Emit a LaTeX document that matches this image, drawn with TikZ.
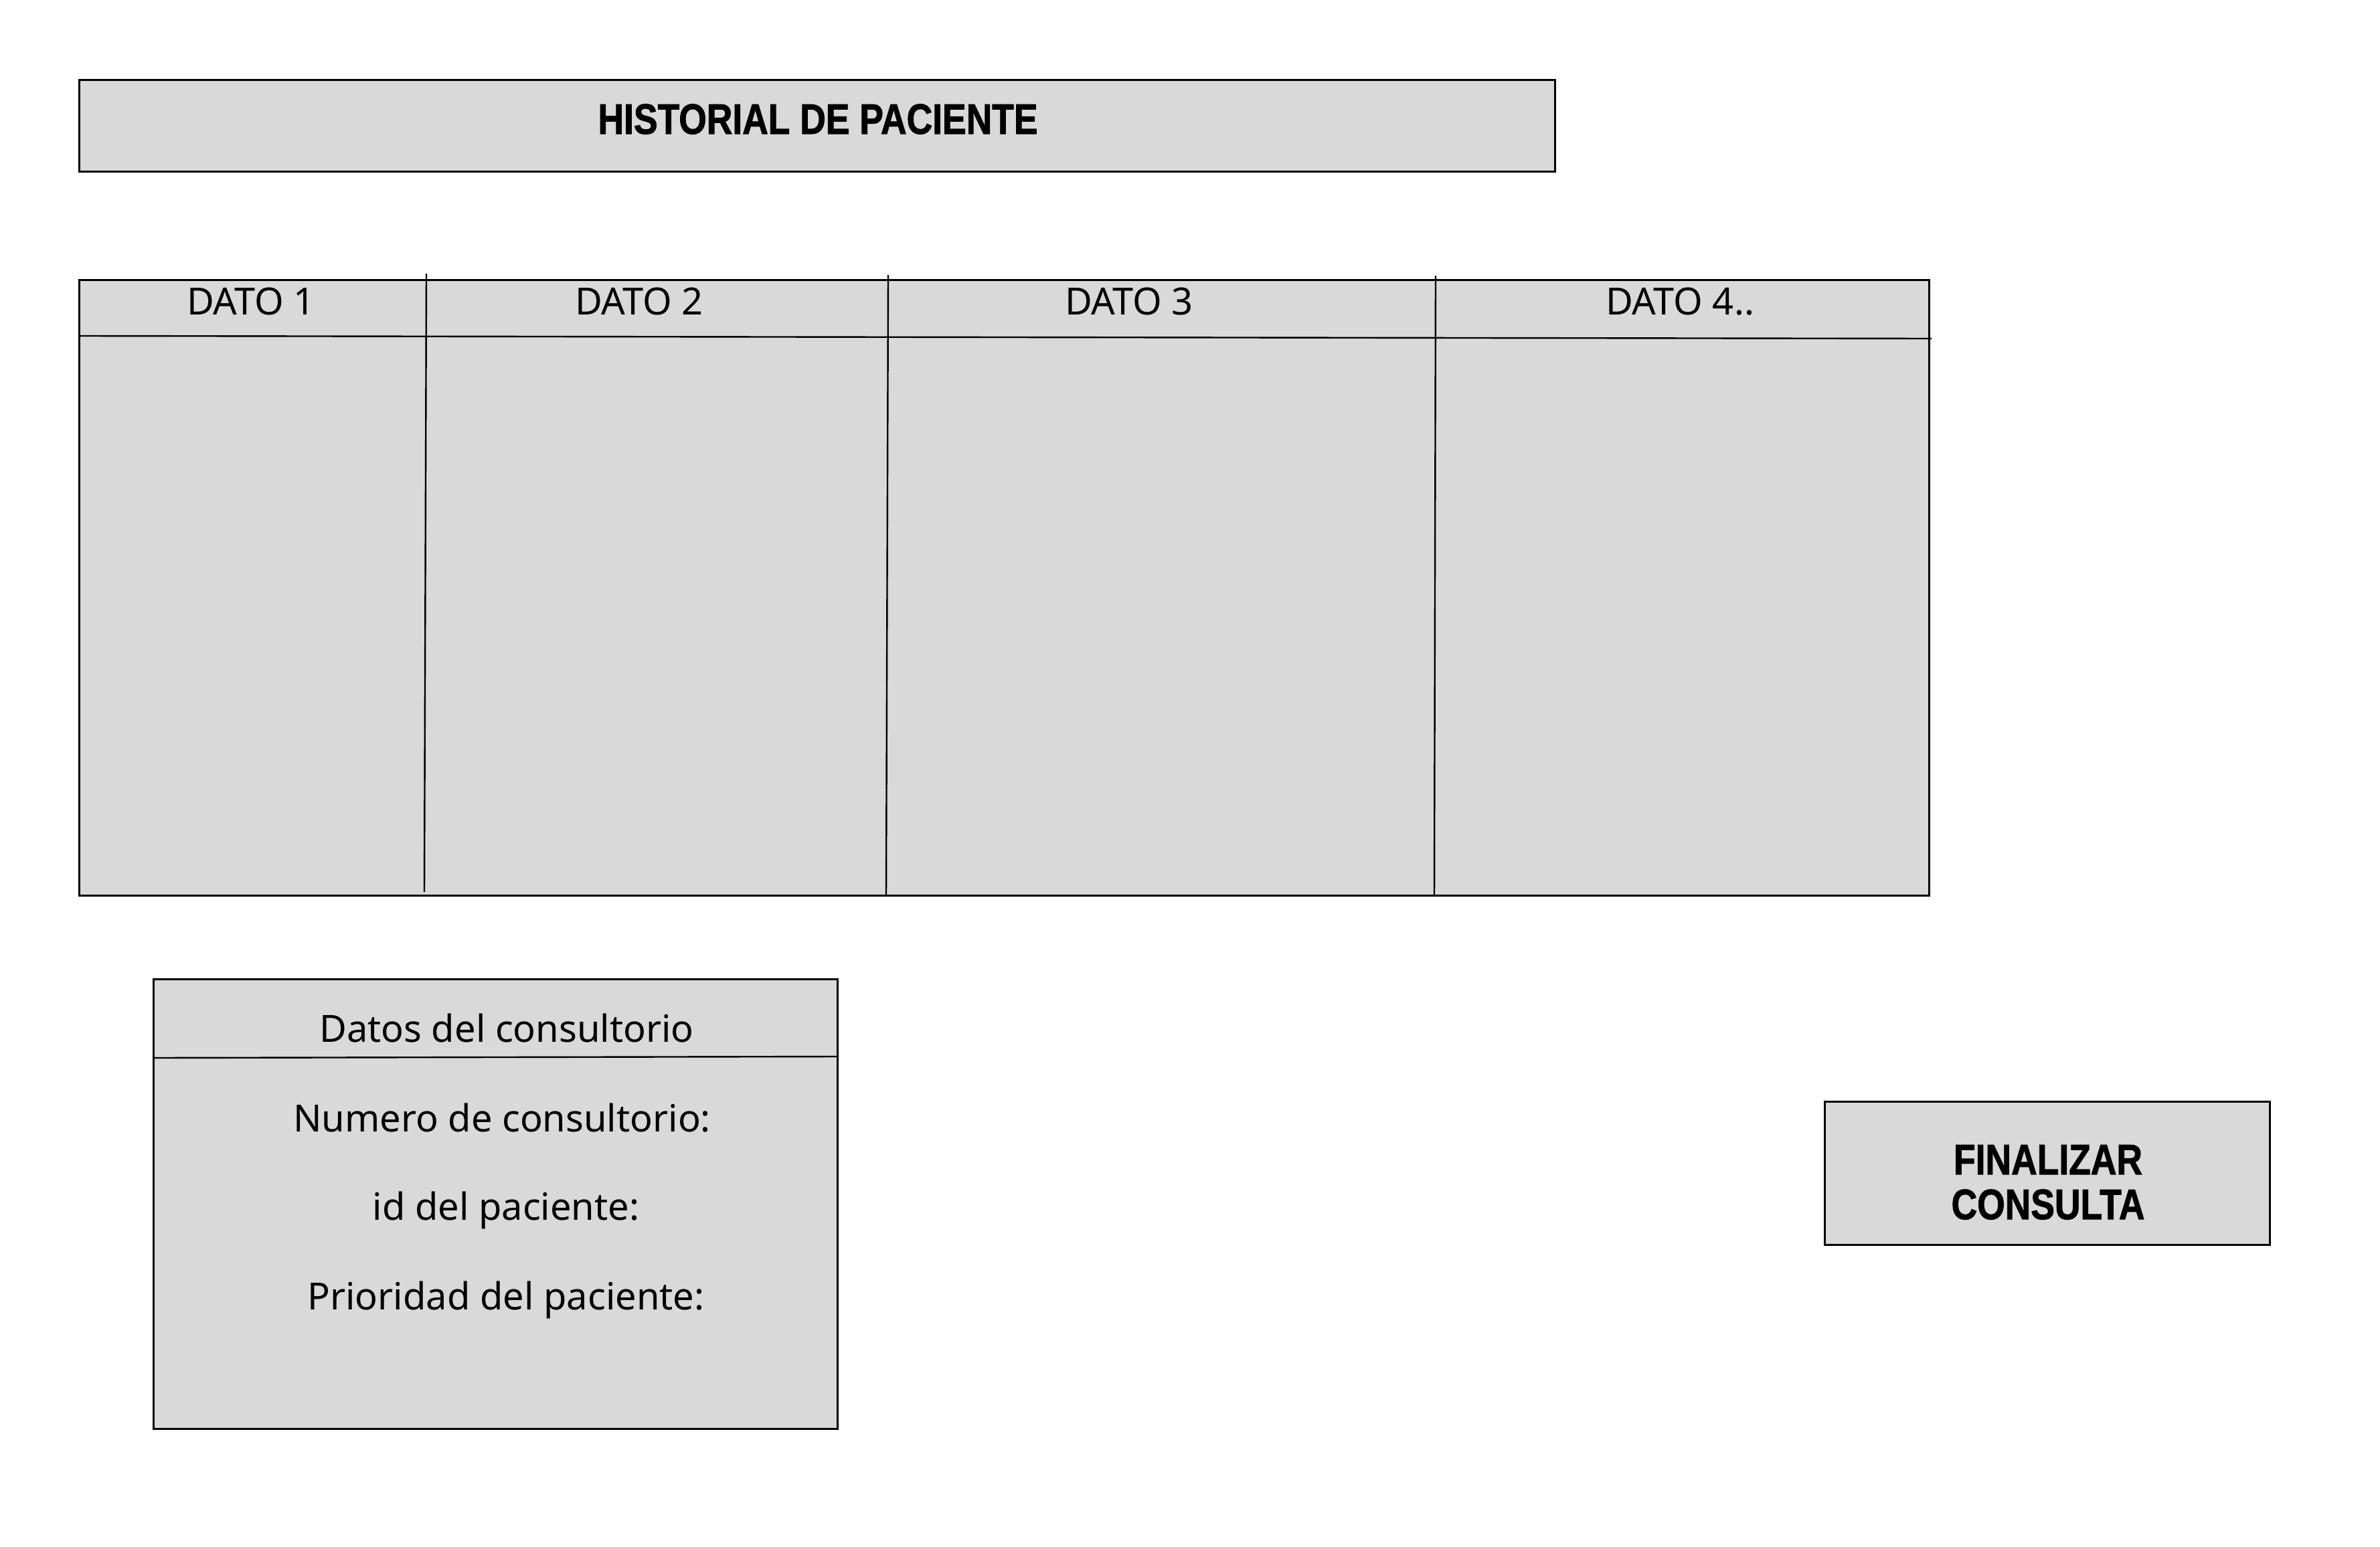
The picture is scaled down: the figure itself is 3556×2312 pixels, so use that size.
\documentclass[tikz,border=0pt]{standalone}
\usepackage{fontspec}
\setmainfont{Noto Sans}
\newfontfamily\heavyfont[FakeBold=1.6]{Liberation Sans Bold}
\usetikzlibrary{fit}
\definecolor{panel}{HTML}{D9D9D9}
\tikzset{
  box/.style={draw=black, fill=panel, line width=0.75pt, inner sep=0pt, outer sep=0pt},
  rule/.style={draw=black, line width=0.6pt},
  lbl/.style={anchor=base, inner sep=0pt, font=\fontsize{14}{16}\selectfont},
  heavy/.style={anchor=base, inner sep=0pt, font=\fontsize{15.9}{16.75}\selectfont\heavyfont},
}
\begin{document}
\begin{tikzpicture}[x=0.25pt,y=-0.25pt]
\useasboundingbox (0,0) rectangle (3556,2312);
% title bar
\coordinate (t1) at (118,120); \coordinate (t2) at (2323,257);
\node[box, fit=(t1)(t2)] (titlebar) {};
\node[heavy] (ttl) at (1222,200) {\scalebox{0.84}[1]{HISTORIAL DE PACIENTE}};
% table
\coordinate (g1) at (118,418); \coordinate (g2) at (2882,1338);
\node[box, fit=(g1)(g2)] (grid) {};
\coordinate (hl) at (118,502); \coordinate (hr) at (2886,506);
\draw[rule] (hl) -- (hr);
\coordinate (c1t) at (637,409);  \coordinate (c1b) at (634,1333);
\coordinate (c2t) at (1327,411); \coordinate (c2b) at (1324,1338);
\coordinate (c3t) at (2145,412); \coordinate (c3b) at (2143,1338);
\draw[rule] (c1t) -- (c1b);
\draw[rule] (c2t) -- (c2b);
\draw[rule] (c3t) -- (c3b);
\node[lbl] (d1) at (375,470) {DATO 1};
\node[lbl] (d2) at (955,470) {DATO 2};
\node[lbl] (d3) at (1687,470) {DATO 3};
\node[lbl] (d4) at (2510,470) {DATO 4..};
% consultorio box
\coordinate (k1) at (229,1463); \coordinate (k2) at (1251,2135);
\node[box, fit=(k1)(k2)] (cons) {};
\coordinate (kl) at (229,1581); \coordinate (kr) at (1251,1579);
\draw[rule] (kl) -- (kr);
\node[lbl] (kh) at (757,1557) {Datos del consultorio};
\node[lbl] (kn) at (750,1691) {Numero de consultorio:};
\node[lbl] (ki) at (756,1823) {id del paciente:};
\node[lbl] (kp) at (756,1957) {Prioridad del paciente:};
% button
\coordinate (b1) at (2726,1646); \coordinate (b2) at (3391,1860);
\node[box, fit=(b1)(b2)] (btn) {};
\node[heavy] (bt1) at (3060,1755) {\scalebox{0.84}[1]{FINALIZAR}};
\node[heavy] (bt2) at (3060,1822) {\scalebox{0.84}[1]{CONSULTA}};
\end{tikzpicture}
\end{document}
